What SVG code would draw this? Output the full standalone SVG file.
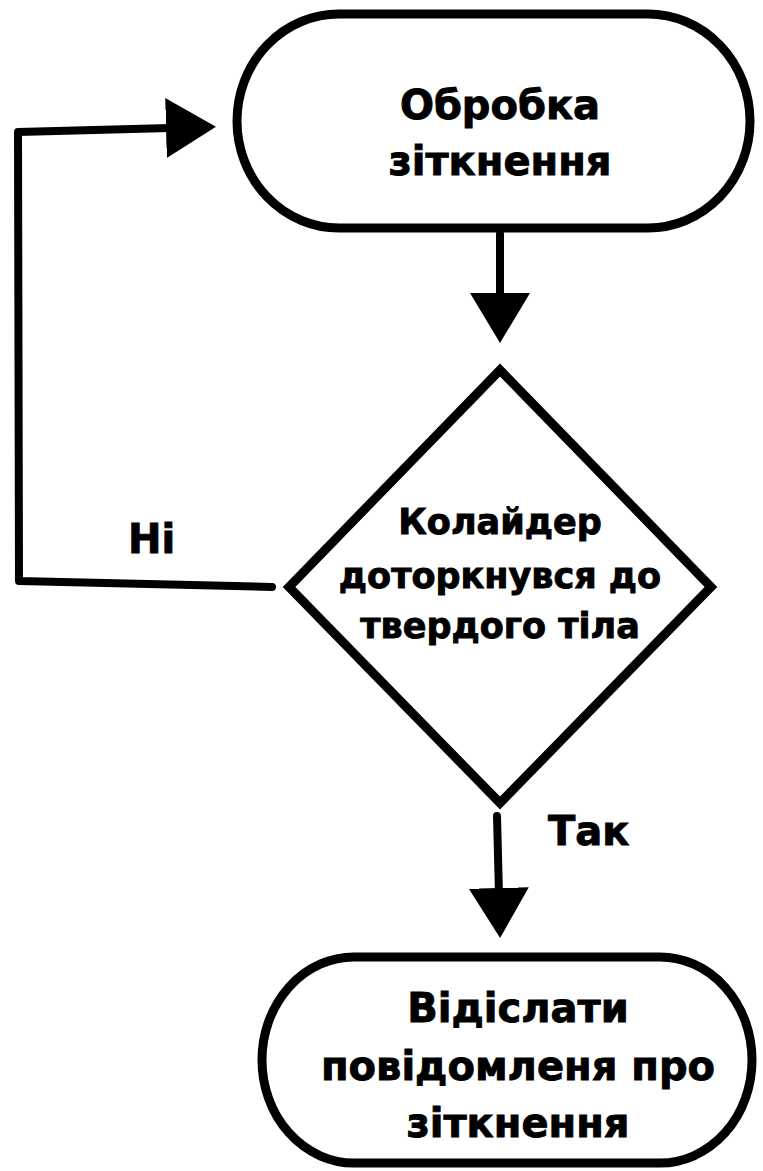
<svg xmlns="http://www.w3.org/2000/svg" width="763" height="1171" viewBox="0 0 763 1171">
  <style>
    .shape { fill: #ffffff; stroke: #000000; stroke-width: 9; stroke-linejoin: miter; }
    .wire { fill: none; stroke: #000000; stroke-width: 8; stroke-linecap: round; stroke-linejoin: round; }
    .txt { font-family: "DejaVu Sans", "Liberation Sans", sans-serif; font-weight: bold; fill: #000000; stroke: #000000; stroke-width: 0.9; text-anchor: middle; }
    .big { font-size: 40px; }
    .mid { font-size: 35px; }
    .lbl { font-family: "DejaVu Sans", "Liberation Sans", sans-serif; font-weight: bold; font-size: 40px; fill: #000000; stroke: #000000; stroke-width: 0.9; }
  </style>
  <defs>
    <marker id="head" markerUnits="userSpaceOnUse" markerWidth="52" markerHeight="62" viewBox="0 0 52 62" refX="7" refY="31" orient="auto">
      <path d="M0,1 L50,31 L0,61 Z" fill="#000000"/>
    </marker>
    <marker id="headLoop" markerUnits="userSpaceOnUse" markerWidth="52" markerHeight="62" viewBox="0 0 52 62" refX="4" refY="31" orient="auto">
      <path d="M0,1 L50,31 L0,61 Z" fill="#000000"/>
    </marker>
  </defs>
  <rect width="763" height="1171" fill="#ffffff"/>

  <!-- connectors -->
  <g id="connectors">
    <path class="wire" d="M500,234 L500,300" marker-end="url(#head)"/>
    <path class="wire" d="M272,587 L19,581 L18,132 L170,128" marker-end="url(#headLoop)"/>
    <path class="wire" d="M497,816 L499,895" marker-end="url(#head)"/>
    <text class="lbl" x="128" y="553">Ні</text>
    <text class="lbl" x="548" y="845">Так</text>
  </g>

  <!-- start: collision handling -->
  <g id="node-process">
    <rect class="shape" x="237" y="14" width="513" height="214" rx="102" ry="107"/>
    <text class="txt big" x="500" y="119">Обробка</text>
    <text class="txt big" x="500" y="175">зіткнення</text>
  </g>

  <!-- decision: collider touched a rigid body -->
  <g id="node-decision">
    <polygon class="shape" points="500,370 711,587 500,803 289,587"/>
    <text class="txt mid" x="500" y="534">Колайдер</text>
    <text class="txt mid" x="500" y="588">доторкнувся до</text>
    <text class="txt mid" x="500" y="638">твердого тіла</text>
  </g>

  <!-- end: send collision message -->
  <g id="node-send">
    <rect class="shape" x="262" y="957" width="490" height="206" rx="92" ry="103"/>
    <text class="txt big" x="518" y="1022">Відіслати</text>
    <text class="txt big" x="518" y="1080">повідомленя про</text>
    <text class="txt big" x="518" y="1137">зіткнення</text>
  </g>
</svg>
